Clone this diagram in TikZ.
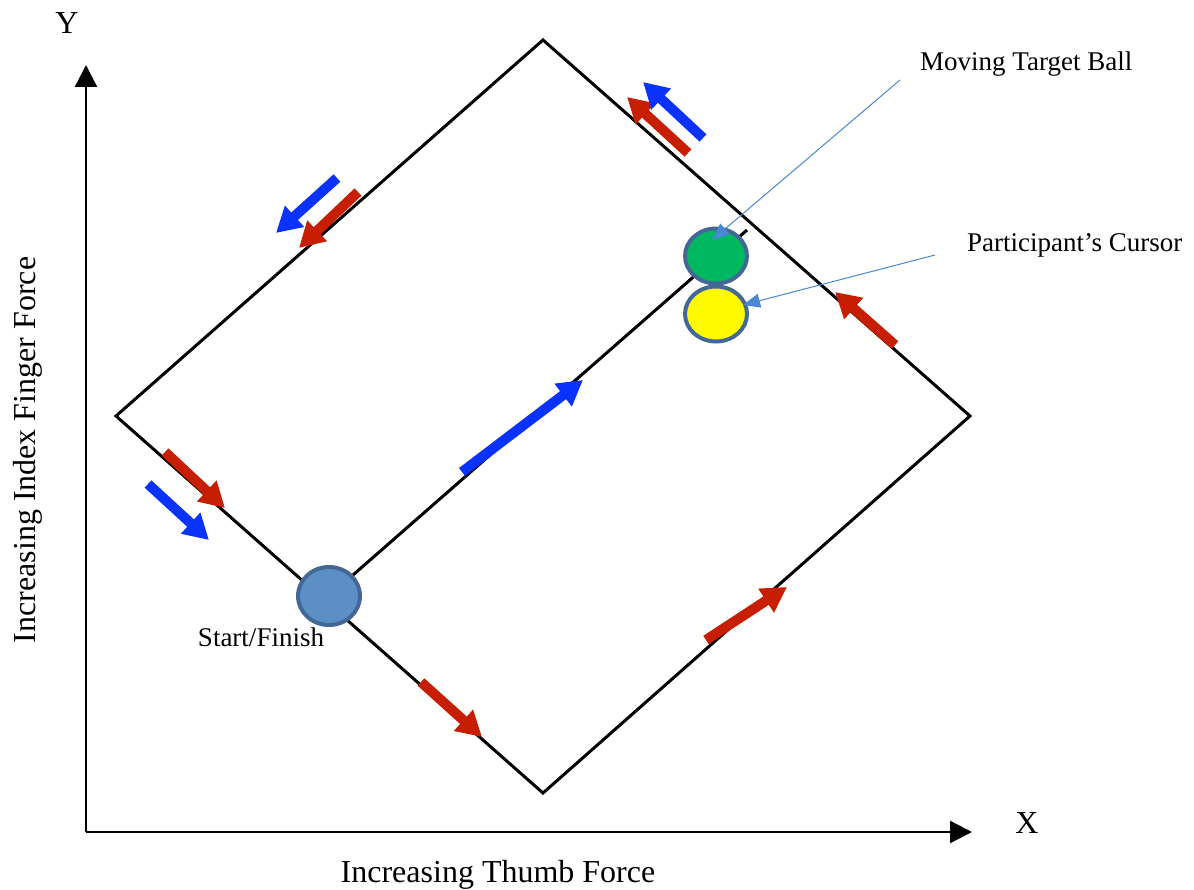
\documentclass[tikz,border=0pt]{standalone}
\usepackage{fontspec}
\setmainfont{Liberation Serif}
\usetikzlibrary{arrows.meta,shapes.geometric}
\definecolor{flowred}{RGB}{200,30,0}
\definecolor{flowblue}{RGB}{10,50,255}
\definecolor{leader}{RGB}{74,136,212}
\definecolor{ringblue}{RGB}{68,104,150}
\definecolor{startfill}{RGB}{92,143,198}
\definecolor{targetgreen}{RGB}{0,184,96}
\definecolor{cursoryellow}{RGB}{255,250,0}

\begin{document}
\begin{tikzpicture}[x=1pt,y=-1pt,
  axisline/.style={line width=2.4pt,-{Triangle[width=22pt,length=22pt]}},
  track/.style={line width=3pt,line join=miter},
  flowarrow/.style={line width=10pt,-{Triangle[width=27pt,length=25pt]}},
  redflow/.style={flowarrow,flowred},
  blueflow/.style={flowarrow,flowblue},
  ball/.style={ellipse,draw=ringblue,line width=4pt,inner sep=0pt,
    minimum width=62pt,minimum height=55pt},
  callout/.style={leader,line width=1pt,-{Triangle[width=14pt,length=17pt]}},
  biglabel/.style={font=\fontsize{32}{38}\selectfont,inner sep=0pt},
  smalllabel/.style={font=\fontsize{27}{32}\selectfont,inner sep=0pt}]

\useasboundingbox (0,0) rectangle (1194,890);

% axes
\coordinate (origin) at (86,832);
\coordinate (ytip) at (86,65);
\coordinate (xtip) at (972,832);
\draw[axisline] (origin) -- (ytip);
\draw[axisline] (origin) -- (xtip);
\node[biglabel] (ylab) at (67,23) {Y};
\node[biglabel] (xlab) at (1027,823) {X};
\node[biglabel,anchor=base] (xtitle) at (498,882) {Increasing Thumb Force};
\node[biglabel,rotate=90] (ytitle) at (28,450) {Increasing Index Finger Force};

% diamond-shaped force track
\coordinate (top) at (543,40);
\coordinate (left) at (116,416);
\coordinate (bottom) at (543,793);
\coordinate (right) at (970,416);
\coordinate (diagend) at (747,230);
\draw[track] (top) -- (left) -- (bottom) -- (right) -- cycle;

% start point, target and cursor
\node[ball,fill=startfill,minimum width=62pt,minimum height=58pt] (start) at (329,596) {};
\draw[track] (start) -- (diagend);
\node[ball,fill=targetgreen] (target) at (716,256) {};
\node[ball,fill=cursoryellow] (cursor) at (716,314) {};

% direction arrows along the track
\coordinate (r1a) at (688,153); \coordinate (r1b) at (627,97);
\coordinate (b1a) at (703,138); \coordinate (b1b) at (643,82);
\coordinate (b2a) at (337,178); \coordinate (b2b) at (276,233);
\coordinate (r2a) at (358,192); \coordinate (r2b) at (299,248);
\coordinate (r3a) at (165,452); \coordinate (r3b) at (225,508);
\coordinate (b3a) at (148,484); \coordinate (b3b) at (209,540);
\coordinate (r4a) at (421,682); \coordinate (r4b) at (482,737);
\coordinate (r5a) at (706,640); \coordinate (r5b) at (787,587);
\coordinate (r6a) at (895,345); \coordinate (r6b) at (835,292);
\coordinate (b4a) at (462,472); \coordinate (b4b) at (583,380);
\draw[redflow] (r1a) -- (r1b);
\draw[blueflow] (b1a) -- (b1b);
\draw[blueflow] (b2a) -- (b2b);
\draw[redflow] (r2a) -- (r2b);
\draw[redflow] (r3a) -- (r3b);
\draw[blueflow] (b3a) -- (b3b);
\draw[redflow] (r4a) -- (r4b);
\draw[redflow] (r5a) -- (r5b);
\draw[redflow] (r6a) -- (r6b);
\draw[blueflow] (b4a) -- (b4b);

% labels and callouts
\node[smalllabel,anchor=base west] (tlab) at (920,71) {Moving Target Ball};
\node[smalllabel,anchor=base west] (clab) at (967,252) {Participant’s Cursor};
\node[smalllabel,anchor=base] (slab) at (261,646) {Start/Finish};
\coordinate (tfrom) at (900,80);
\coordinate (tto) at (712,240);
\coordinate (cfrom) at (935,255);
\coordinate (cto) at (743,305);
\draw[callout] (tfrom) -- (tto);
\draw[callout] (cfrom) -- (cto);
\end{tikzpicture}
\end{document}
